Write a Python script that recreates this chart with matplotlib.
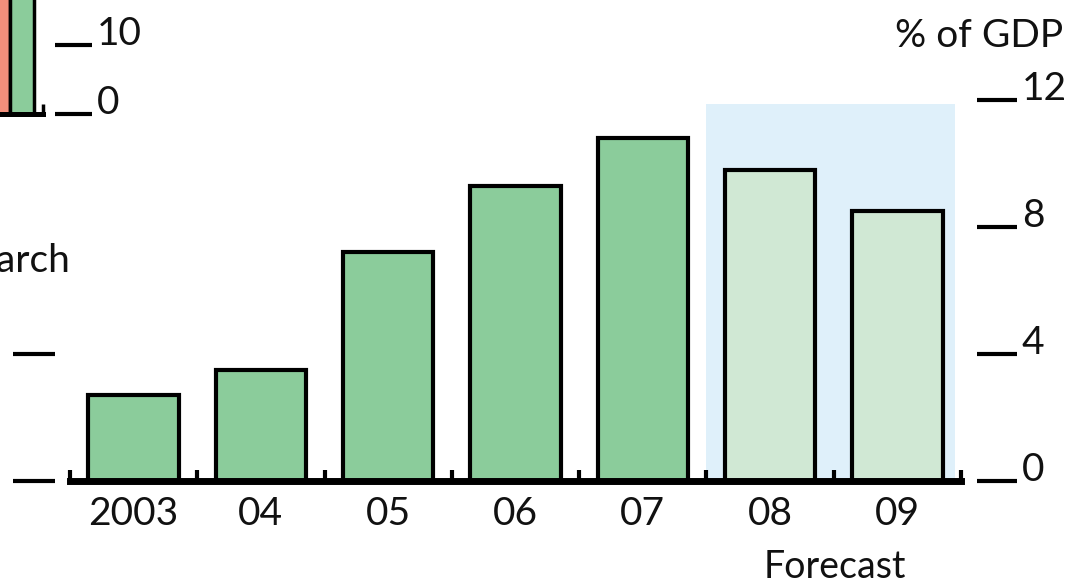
import matplotlib
matplotlib.use("Agg")
import matplotlib.pyplot as plt
import numpy as np

plt.rcParams["font.family"] = ["Lato", "DejaVu Sans"]

# Current account balance, % of GDP
years = ["2003", "04", "05", "06", "07", "08", "09"]
balance = [2.7, 3.5, 7.2, 9.3, 10.8, 9.8, 8.5]
is_forecast = [False, False, False, False, False, True, True]
right_ticks = [0, 4, 8, 12]

# neighbouring panel (only its corner shows)
side_values = [24, 22]
side_colors = ["#F28F7B", "#8BCC9B"]
side_ticks = [0, 10]
left_ticks = [0, 4]

C_GREEN = "#8BCC9B"
C_PALE = "#D0E8D4"
C_SHADE = "#DFF0FA"
C_TEXT = "#111111"
FS = 28

W, H = 1070, 588


def px(x0, y0, w, h):
    """Figure-fraction rectangle from pixel box (top-left origin)."""
    return [x0 / W, 1 - (y0 + h) / H, w / W, h / H]


fig = plt.figure(figsize=(W / 100, H / 100), dpi=100, facecolor="white")

# ── main panel ──────────────────────────────────────────────────────────────
ax = fig.add_axes(px(70, 100, 891, 381))
ax.set_facecolor("none")
x = np.arange(len(years))
ax.axvspan(4.5, 6.45, ymin=0, ymax=11.87 / 12, color=C_SHADE, lw=0, zorder=1)
ax.bar(x, balance, width=0.71,
       color=[C_PALE if f else C_GREEN for f in is_forecast],
       edgecolor="black", linewidth=3, zorder=3)
ax.set_xlim(-0.5, len(years) - 0.5)
ax.set_ylim(0, 12)

for s in ("top", "left"):
    ax.spines[s].set_visible(False)
ax.spines["bottom"].set_linewidth(5)
ax.spines["bottom"].set_zorder(4)
ax.spines["right"].set_position(("outward", 11.5))
ax.spines["right"].set_visible(False)

ax.set_xticks(x)
ax.set_xticklabels(years, fontsize=FS, color=C_TEXT)
ax.set_xticks(np.arange(-0.5, len(years)), minor=True)
ax.tick_params(axis="x", which="major", length=0, pad=10.5)
ax.tick_params(axis="x", which="minor", direction="in", length=8, width=3)

ax.yaxis.tick_right()
ax.set_yticks(right_ticks)
ax.set_yticklabels([str(t) for t in right_ticks], fontsize=FS, color=C_TEXT)
ax.tick_params(axis="y", direction="out", length=28.8, width=3, pad=3.5)
for lab in ax.get_yticklabels():
    lab.set_verticalalignment("baseline")

fig.text(1063 / W, 1 - 47 / H, "% of GDP", ha="right", va="baseline",
         fontsize=FS, color=C_TEXT)
fig.text(835 / W, 1 - 578 / H, "Forecast", ha="center", va="baseline",
         fontsize=27, color=C_TEXT)

# ── left neighbour: tick marks and title fragment ───────────────────────────
axl = fig.add_axes(px(-100, 100, 113, 381))
axl.set_facecolor("none")
axl.set_ylim(0, 12)
for s in axl.spines.values():
    s.set_visible(False)
axl.set_xticks([])
axl.yaxis.tick_right()
axl.set_yticks(left_ticks)
axl.set_yticklabels([])
axl.tick_params(axis="y", direction="out", length=30, width=3)

fig.text(70 / W, 1 - 272 / H, "March", ha="right", va="baseline",
         fontsize=FS, color=C_TEXT)

# ── top-left neighbour: bottom-right corner of its bars ─────────────────────
axt = fig.add_axes(px(-100, 114 - 140, 143, 140))
axt.set_facecolor("none")
axt.bar([0, 1], side_values, width=1, align="edge", color=side_colors,
        edgecolor="black", linewidth=2.5, zorder=3)
axt.set_xlim(1 - 110 / 24, 1 + 33 / 24)
axt.set_ylim(0, 140 / 6.9)
for s in ("top", "left"):
    axt.spines[s].set_visible(False)
axt.spines["bottom"].set_linewidth(3.6)
axt.spines["bottom"].set_zorder(4)
axt.spines["right"].set_position(("outward", 8.6))
axt.spines["right"].set_visible(False)
axt.set_xticks([])
axt.set_xticks([1 + 33 / 24], minor=True)
axt.tick_params(axis="x", which="minor", direction="in", length=7, width=2.5)
axt.yaxis.tick_right()
axt.set_yticks(side_ticks)
axt.set_yticklabels([str(t) for t in side_ticks], fontsize=FS, color=C_TEXT)
axt.tick_params(axis="y", direction="out", length=26.6, width=3, pad=3.5)
for lab in axt.get_yticklabels():
    lab.set_verticalalignment("baseline")

fig.savefig("out.png", dpi=100, facecolor="white")
